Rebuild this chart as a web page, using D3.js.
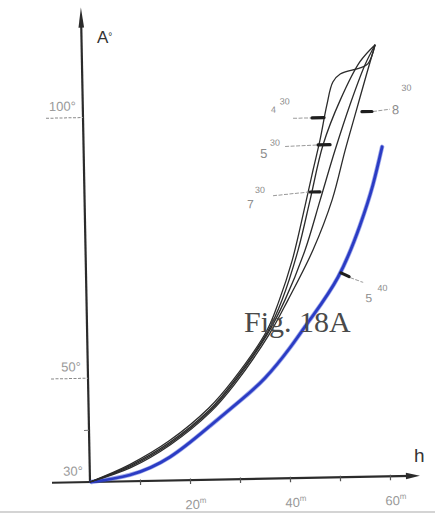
<!DOCTYPE html>
<html><head><meta charset="utf-8">
<script src="https://cdn.jsdelivr.net/npm/d3@7"></script>
<style>html,body{margin:0;padding:0;background:#fff;}svg{display:block;}</style>
</head><body>
<svg id="chart" width="435" height="513"></svg>
<script>
// ---- data (h in m, A in degrees) ----
const yTickValues = [30, 50, 100];
const yMinorTicks = [40];
const xTickValues = [10, 20, 30, 40, 50, 60];
const xTickLabels = [20, 40, 60];
const xAxisExtent = [-7.6, 66];
const yAxisExtent = [30, 121];

const curve4 = [[0,30],[8.0,33.2],[16.0,37.6],[24.1,43.8],[28.9,48.9],[35.9,58.3],[38.4,63.8],[41.3,71.8],[44.1,82.3],[45.8,89.0],[47.3,94.7],[48.8,101.4],[50.1,105.8],[51.6,107.3],[55.6,108.4],[57.2,109.2],[58.7,112.8]];
const curve5 = [[0,30],[8.1,33.0],[16.1,37.3],[24.3,43.5],[29.0,48.6],[36.0,58.0],[39.1,64.2],[42.5,73.7],[45.1,83.3],[47.9,93.8],[51.5,102.3],[55.6,109.6],[58.7,112.8]];
const curve7 = [[0,30],[8.1,32.8],[16.2,37.1],[24.4,43.3],[29.1,48.4],[36.1,57.8],[39.7,64.2],[43.9,73.7],[47.1,83.2],[50.3,92.8],[53.4,101.3],[56.6,109.0],[58.7,112.8]];
const curve8 = [[0,30],[8.2,32.6],[16.3,36.9],[24.4,43.0],[29.2,48.1],[36.3,57.5],[40.3,64.2],[45.5,73.7],[49.5,83.2],[52.3,92.7],[54.6,100.0],[57.0,107.6],[58.7,112.8]];
const curveBlue = [[0.3,30],[8.0,31.2],[16.1,34.5],[24.2,40.3],[30.3,45.0],[35.4,49.3],[40.5,55.0],[44.6,60.3],[50.4,68.4],[55.0,78.3],[57.7,85.9],[59.7,93.2]];

const labelMain = ["4", "5", "7", "8", "5"];
const labelSup  = ["30", "30", "30", "30", "40"];
const markerAt  = [[47.0,99.0],[48.1,93.8],[46.1,84.8],[56.8,100.0],[51.6,68.8]];

// ---- layout / style ----
const svg = d3.select("#chart");
const x = d3.scaleLinear().domain([0, 60]).range([90, 390]);
const y = d3.scaleLinear().domain([30, 100]).range([482, 117]);
const INK = "#2b2b2b", GREY = "#8a8a8a";

svg.append("rect").attr("x",0).attr("y",511).attr("width",435).attr("height",2).attr("fill","#d4d4d4");

const g = svg.append("g").attr("transform", `rotate(-1.1, ${x(0)}, ${y(30)})`);

// axes lines
g.append("line").attr("x1", x(xAxisExtent[0])).attr("x2", x(xAxisExtent[1]) - 8)
  .attr("y1", y(30)).attr("y2", y(30)).attr("stroke", INK).attr("stroke-width", 2.2);
g.append("line").attr("x1", x(0)).attr("x2", x(0))
  .attr("y1", y(yAxisExtent[0])).attr("y2", y(yAxisExtent[1]) + 12).attr("stroke", INK).attr("stroke-width", 2.2);
// arrowheads
const xa = x(xAxisExtent[1]), ya = y(30);
g.append("path").attr("d", `M${xa},${ya} L${xa-14},${ya-3.2} L${xa-14},${ya+3.2} Z`).attr("fill", INK);
const yx = x(0), yy = y(yAxisExtent[1]);
g.append("path").attr("d", `M${yx},${yy} L${yx-2.8},${yy+20} L${yx+2.8},${yy+20} Z`).attr("fill", INK);

// x axis ticks
const xAx = g.append("g").attr("transform", `translate(0,${y(30)})`)
  .call(d3.axisBottom(x).tickValues(xTickValues).tickSize(4).tickFormat(""));
xAx.select(".domain").remove();
xAx.selectAll(".tick line").attr("stroke", "#555").attr("stroke-width", 1.2).attr("y1", -1.5);
xAx.selectAll(".tick").filter(d => xTickLabels.includes(d)).append("text")
  .attr("x", 5).attr("y", 29).attr("fill", "#999").attr("text-anchor", "middle")
  .style("font-family", "Liberation Sans, Arial, sans-serif").style("font-size", "13px")
  .each(function(d){
    const t = d3.select(this);
    t.append("tspan").text(d);
    t.append("tspan").text("m").attr("dy", -6).style("font-size", "8px");
  });

// y axis labels
const yAx = g.append("g").attr("transform", `translate(${x(0)},0)`)
  .call(d3.axisLeft(y).tickValues(yTickValues).tickSize(0).tickPadding(7).tickFormat(d => d + "°"));
yAx.select(".domain").remove();
yAx.selectAll(".tick text").attr("fill", "#999").attr("dy", "-0.55em")
  .style("font-family", "Liberation Sans, Arial, sans-serif").style("font-size", "13px");
// dotted tick lines
yAx.selectAll(".tick").filter(d => d !== 30).append("line")
  .attr("x1", -37).attr("x2", 0).attr("stroke", GREY).attr("stroke-width", 1).attr("stroke-dasharray", "3,1.5");
const yMin = g.append("g").attr("transform", `translate(${x(0)},0)`)
  .call(d3.axisLeft(y).tickValues(yMinorTicks).tickSize(5).tickFormat(""));
yMin.select(".domain").remove();
yMin.selectAll(".tick line").attr("stroke", "#777");

// curves
const line = d3.line().x(d => x(d[0])).y(d => y(d[1])).curve(d3.curveCatmullRom.alpha(0.5));
const smooth = d3.line().x(d => x(d[0])).y(d => y(d[1])).curve(d3.curveNatural);
g.append("path").datum(curveBlue).attr("d", smooth).attr("fill", "none")
  .attr("stroke", "#3b4fd6").attr("stroke-width", 4.4).attr("stroke-linecap", "round").attr("opacity", 0.5);
g.append("path").datum(curveBlue).attr("d", smooth).attr("fill", "none")
  .attr("stroke", "#2b3cc4").attr("stroke-width", 2.8).attr("stroke-linecap", "round");
[curve4, curve5, curve7, curve8].forEach(c => {
  g.append("path").datum(c).attr("d", line).attr("fill", "none")
    .attr("stroke", INK).attr("stroke-width", 1.3).attr("stroke-linejoin", "round");
});

// annotations: markers, leaders, labels
const ann = [
  {dash:[-6,0,6,0], lead:[-25,0,-7,0], main:[-47,-6], sup:[-38,-14]},
  {dash:[-6,0,6,0], lead:[-39,1,-7,0], main:[-64,12], sup:[-54,0]},
  {dash:[-5,0,5,0], lead:[-42,3,-6,0], main:[-68,15], sup:[-60,0]},
  {dash:[-5,0,5,0], lead:[6,0,23,-2], main:[25,3], sup:[35,-20]},
  {dash:[-3,-2,5,2], lead:[6,3,19,8], main:[21,28], sup:[33,17]}
];
const sizes = [9, 13, 12, 13, 12];
markerAt.forEach((m, i) => {
  const a = ann[i];
  const mg = g.append("g").attr("transform", `translate(${x(m[0])},${y(m[1])})`);
  mg.append("line").attr("x1", a.lead[0]).attr("y1", a.lead[1]).attr("x2", a.lead[2]).attr("y2", a.lead[3])
    .attr("stroke", "#9a9a9a").attr("stroke-width", 1).attr("stroke-dasharray", "4,1.5");
  mg.append("line").attr("x1", a.dash[0]).attr("y1", a.dash[1]).attr("x2", a.dash[2]).attr("y2", a.dash[3])
    .attr("stroke", "#1e1e1e").attr("stroke-width", 3.2).attr("stroke-linecap", "round");
  mg.append("text").attr("x", a.main[0]).attr("y", a.main[1]).text(labelMain[i])
    .attr("fill", "#8c8c8c").style("font-family", "Liberation Sans, Arial, sans-serif").style("font-size", sizes[i] + "px");
  mg.append("text").attr("x", a.sup[0]).attr("y", a.sup[1]).text(labelSup[i])
    .attr("fill", "#8c8c8c").style("font-family", "Liberation Sans, Arial, sans-serif").style("font-size", "9px");
});

// axis titles
const tA = svg.append("text").attr("x", 97).attr("y", 43).attr("fill", "#333")
  .style("font-family", "Liberation Sans, Arial, sans-serif").style("font-size", "17px");
tA.append("tspan").text("A");
tA.append("tspan").text("°").attr("dy", -3).style("font-size", "10px");
svg.append("text").attr("x", 414).attr("y", 462).text("h").attr("fill", "#333")
  .style("font-family", "Liberation Sans, Arial, sans-serif").style("font-size", "19px");

// figure caption
svg.append("text").attr("x", 244).attr("y", 332).text("Fig. 18A").attr("fill", "#4a4a4a")
  .style("font-family", "Liberation Serif, Times New Roman, serif").style("font-size", "30px");
</script>
</body></html>
